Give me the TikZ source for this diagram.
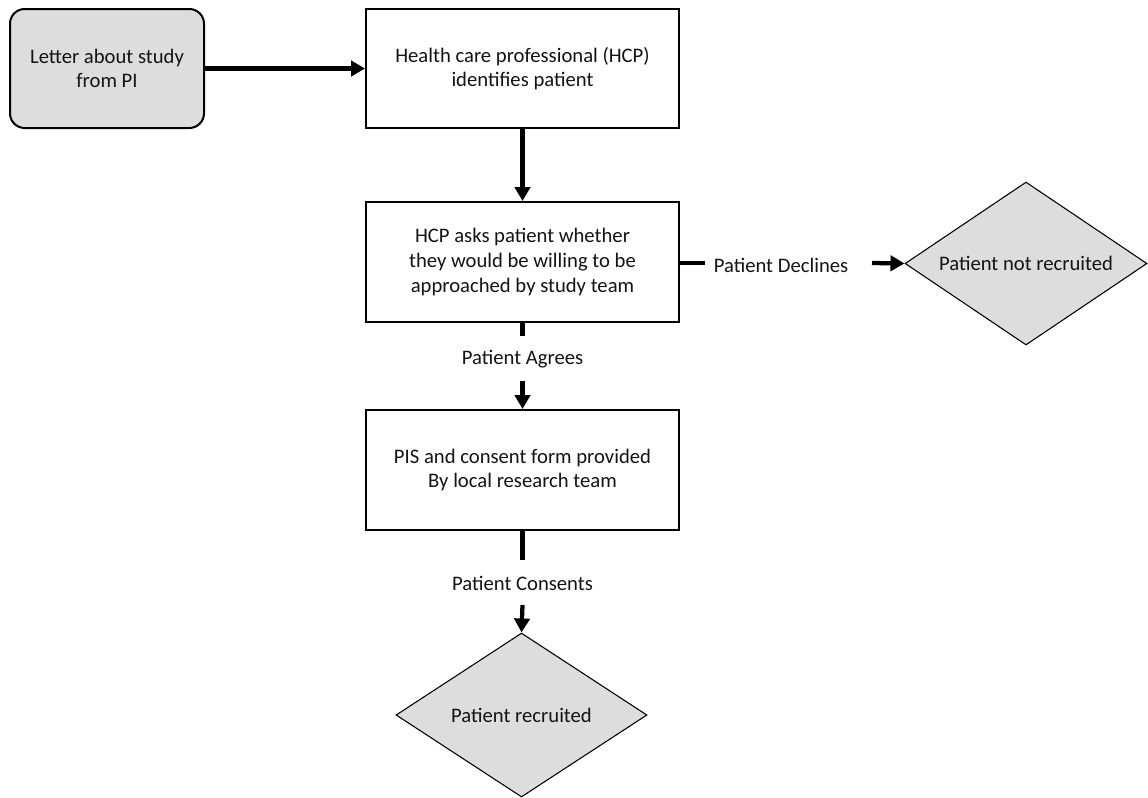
\documentclass[tikz,border=0pt]{standalone}
\usepackage{fontspec}
\setmainfont{Carlito}
\usetikzlibrary{shapes.geometric,arrows.meta}
\definecolor{fillgray}{RGB}{221,221,221}
\definecolor{ink}{RGB}{20,20,20}
\begin{document}
\begin{tikzpicture}[x=0.75pt,y=-0.75pt,
  every node/.style={font=\fontsize{15.5pt}{18.5pt}\selectfont, text=ink},
  procbox/.style={draw=black, line width=1.5pt, fill=white, minimum width=313*0.75pt, minimum height=119*0.75pt, inner sep=0pt, align=center},
  startbox/.style={draw=black, line width=1.5pt, fill=fillgray, rounded corners=11pt, minimum width=194*0.75pt, minimum height=119*0.75pt, inner sep=0pt, align=center},
  endshape/.style={draw=black, line width=0.8pt, fill=fillgray, diamond, aspect=1.5, inner sep=0pt, align=center},
  lbl/.style={inner sep=0pt},
  flow/.style={line width=3.2pt, -{Triangle[length=10.5pt,width=11.5pt]}},
  flowline/.style={line width=3.2pt}]
\useasboundingbox (0,0) rectangle (1148,797);
\node[startbox] (letter) at (107,68.5) {Letter about study\\from PI};
\node[procbox] (hcp) at (522.5,68.5) {Health care professional (HCP)\\identifies patient};
\node[procbox, minimum height=120*0.75pt] (ask) at (522.5,262) {HCP asks patient whether\\they would be willing to be\\approached by study team};
\node[procbox, minimum height=120*0.75pt] (pis) at (522.5,470) {PIS and consent form provided\\By local research team};
\node[endshape, minimum width=242*0.75pt, minimum height=163*0.75pt] (notrec) at (1026,263.5) {Patient not recruited};
\node[endshape, minimum width=251*0.75pt, minimum height=164*0.75pt] (rec) at (521.5,715) {Patient recruited};
\node[lbl] (declines) at (781,265) {Patient Declines};
\node[lbl] (agrees) at (522.5,359) {Patient Agrees};
\node[lbl] (consents) at (522.5,583) {Patient Consents};
\coordinate (d1) at (705,263);
\coordinate (d2) at (872,263);
\coordinate (a1) at (522.5,336);
\coordinate (a2) at (522.5,381);
\coordinate (c1) at (522.5,560);
\coordinate (c2) at (522.5,605);
\draw[flow] (letter.east) -- (hcp.west);
\draw[flow] (hcp.south) -- (ask.north);
\draw[flowline] (ask.east |- d1) -- (d1);
\draw[flow] (d2) -- (notrec.west);
\draw[flowline] (ask.south) -- (a1);
\draw[flow] (a2) -- (pis.north);
\draw[flowline] (pis.south) -- (c1);
\draw[flow] (c2) -- (rec.north);
\end{tikzpicture}
\end{document}
